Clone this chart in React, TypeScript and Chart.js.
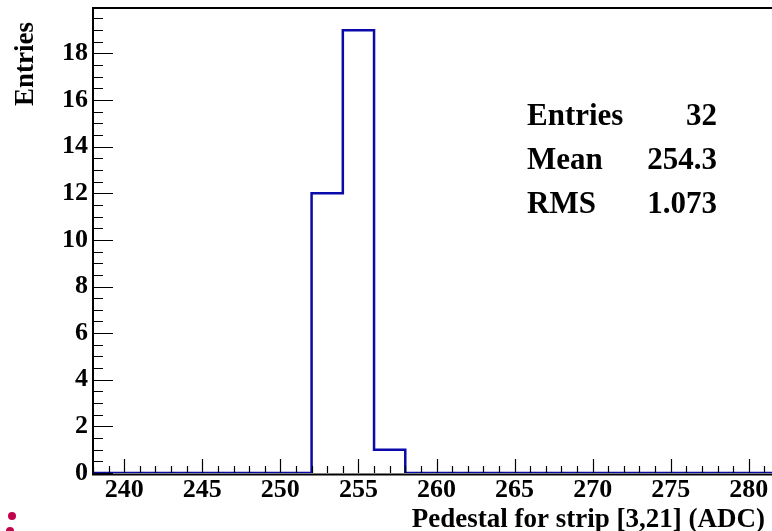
import React, { useEffect, useRef } from "react";
import { Chart, registerables } from "chart.js";

Chart.register(...registerables);

// ---- data ----
const binLowEdges = [238, 240, 242, 244, 246, 248, 250, 252, 254, 256, 258, 260, 262, 264, 266, 268, 270, 272, 274, 276, 278, 280];
const binCounts = [0, 0, 0, 0, 0, 0, 0, 12, 19, 1, 0, 0, 0, 0, 0, 0, 0, 0, 0, 0, 0, 0];
const upperEdge = 282;
const xMajorTicks = [240, 245, 250, 255, 260, 265, 270, 275, 280];
const yMajorTicks = [0, 2, 4, 6, 8, 10, 12, 14, 16, 18];
const yMax = 19.95;
const statLabels = ["Entries", "Mean", "RMS"];
const statValues = ["32", "254.3", "1.073"];
const xTitle = "Pedestal for strip [3,21] (ADC)";
const yTitle = "Entries";

const FONT = "'Liberation Serif', 'DejaVu Serif', serif";
const BLUE = "#0a0aaa";

const rootPlugin = {
  id: "rootStyle",
  afterDraw(chart: any) {
    const { ctx, chartArea, scales } = chart;
    const xs = scales.x;
    const ys = scales.y;
    const { left, right, top, bottom } = chartArea;
    ctx.save();
    // frame
    ctx.strokeStyle = "#000";
    ctx.lineWidth = 2;
    ctx.beginPath();
    ctx.moveTo(left, bottom + 1.5);
    ctx.lineTo(left, top);
    ctx.lineTo(right, top);
    ctx.lineTo(right, bottom + 1.5);
    ctx.moveTo(left - 1, bottom + 1.5);
    ctx.lineTo(right + 1, bottom + 1.5);
    ctx.stroke();

    // x ticks (inward)
    ctx.lineWidth = 1.2;
    ctx.beginPath();
    for (let v = Math.ceil(xs.min); v <= xs.max; v += 1) {
      const px = Math.round(xs.getPixelForValue(v)) + 0.5;
      const len = v % 5 === 0 ? 14 : 7;
      ctx.moveTo(px, bottom);
      ctx.lineTo(px, bottom - len);
    }
    // y ticks (inward)
    for (let v = 0; v <= ys.max + 1e-9; v += 0.5) {
      const py = Math.round(ys.getPixelForValue(v)) + 0.5;
      const len = v % 2 === 0 ? 20 : 10;
      ctx.moveTo(left, py);
      ctx.lineTo(left + len, py);
    }
    ctx.stroke();

    // axis titles
    ctx.fillStyle = "#000";
    ctx.font = `bold 27px ${FONT}`;
    ctx.textBaseline = "alphabetic";
    ctx.textAlign = "right";
    ctx.fillText(xTitle, 765, 527);
    ctx.save();
    ctx.translate(33, 22);
    ctx.rotate(-Math.PI / 2);
    ctx.textAlign = "right";
    ctx.fillText(yTitle, 0, 0);
    ctx.restore();

    // stats box text
    ctx.font = `bold 31px ${FONT}`;
    statLabels.forEach((lab, i) => {
      const y = 125 + i * 44;
      ctx.textAlign = "left";
      ctx.fillText(lab, 527, y);
      ctx.textAlign = "right";
      ctx.fillText(statValues[i], 717, y);
    });

    // stray marker fragment at bottom-left
    ctx.fillStyle = "#c2044e";
    ctx.beginPath();
    ctx.arc(12, 516, 4, 0, Math.PI * 2);
    ctx.fill();
    ctx.beginPath();
    ctx.arc(10, 531, 4, 0, Math.PI * 2);
    ctx.fill();
    ctx.restore();
  },
};

export default function App() {
  const ref = useRef<HTMLCanvasElement | null>(null);
  useEffect(() => {
    if (!ref.current) return;
    const points = binLowEdges.map((x, i) => ({ x, y: binCounts[i] }));
    points.push({ x: upperEdge, y: 0 });
    const chart = new Chart(ref.current, {
      type: "line",
      data: {
        datasets: [
          {
            data: points,
            stepped: "before",
            borderColor: BLUE,
            borderWidth: 2.5,
            pointRadius: 0,
            fill: false,
          },
        ],
      },
      options: {
        animation: false,
        responsive: false,
        devicePixelRatio: 1,
        layout: { padding: { top: 8, right: 20, left: 0, bottom: 0 } },
        plugins: { legend: { display: false }, tooltip: { enabled: false } },
        scales: {
          x: {
            type: "linear",
            min: binLowEdges[0],
            max: upperEdge,
            grid: { display: false, drawTicks: false, tickLength: 0 },
            border: { display: false },
            afterBuildTicks: (s: any) => {
              s.ticks = xMajorTicks.map((v) => ({ value: v }));
            },
            afterFit: (s: any) => {
              s.height = 58;
              s.paddingLeft = 0;
              s.paddingRight = 0;
            },
            ticks: {
              color: "#000",
              font: { family: FONT, size: 26, weight: "bold" },
              padding: 2,
              maxRotation: 0,
              autoSkip: false,
            },
          },
          y: {
            type: "linear",
            min: 0,
            max: yMax,
            grid: { display: false, drawTicks: false, tickLength: 0 },
            border: { display: false },
            afterBuildTicks: (s: any) => {
              s.ticks = yMajorTicks.map((v) => ({ value: v }));
            },
            afterFit: (s: any) => {
              s.width = 93;
              s.paddingTop = 0;
              s.paddingBottom = 0;
            },
            ticks: {
              color: "#000",
              font: { family: FONT, size: 26, weight: "bold" },
              padding: 5,
              autoSkip: false,
            },
          },
        },
      },
      plugins: [rootPlugin],
    } as any);
    return () => chart.destroy();
  }, []);
  return (
    <div style={{ position: "fixed", left: 0, top: 0, width: 772, height: 531, overflow: "hidden", background: "#fff" }}>
      <canvas ref={ref} width={800} height={531} style={{ display: "block", width: 800, height: 531 }} />
    </div>
  );
}
